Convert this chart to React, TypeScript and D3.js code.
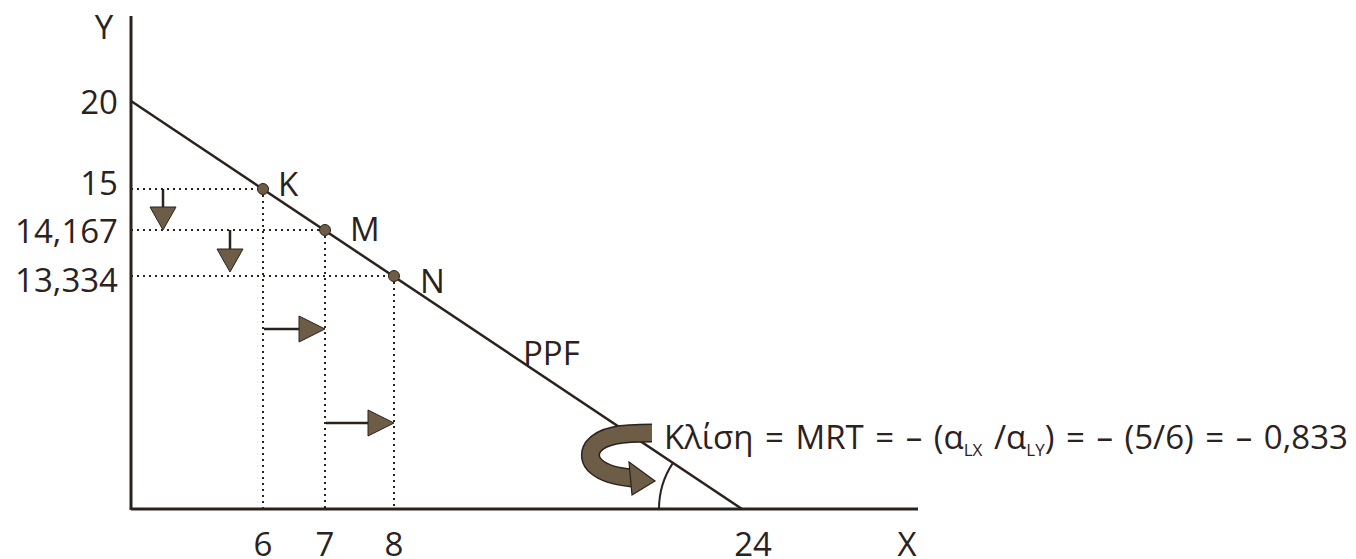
import React from 'react';
import * as d3 from 'd3';

// schematic PPF diagram
const xTicks = [6, 7, 8, 24];
const yTicks = [20, 15, 14.167, 13.334];
const pointNames = ['K', 'M', 'N'];
const pointX = [6, 7, 8];
const pointY = [15, 14.167, 13.334];
const ppfX = [0, 24];
const ppfY = [20, 0];

const W = 1356;
const H = 559;
const ink = '#2b221d';
const brown = '#6d5c46';
const font = '"Open Sans", "DejaVu Sans", sans-serif';
const fs = 33;

// the original is not to scale, so use a piecewise scale through the marked values
const x = d3.scaleLinear().domain([0, 6, 7, 8, 24]).range([131, 263, 325, 394, 742]);
const y = d3.scaleLinear().domain([0, 13.334, 14.167, 15, 20]).range([509, 276, 230, 189, 101]);

const fmt = (v: number) => String(v).replace('.', ',');

const App = () => {
  const line = d3.line<number>().x((d) => x(ppfX[d])).y((d) => y(ppfY[d]));
  const x0 = x(0);
  const y0 = y(0);
  const xEnd = x(24);

  // slope angle for the little arc at the X intercept
  const ang = Math.atan2(y0 - y(20), xEnd - x0);
  const r = 83;
  const arcStart = [xEnd - r, y0];
  const arcEnd = [xEnd - r * Math.cos(ang), y0 - r * Math.sin(ang)];

  const labelOffset = [
    { dx: 15, dy: -6 },
    { dx: 25, dy: -2 },
    { dx: 26, dy: 4 },
  ];

  const downArrow = (cx: number, from: number, to: number) => {
    const headTop = to - 23;
    return (
      <g key={`d${cx}`}>
        <line x1={cx} x2={cx} y1={y(from)} y2={headTop} stroke={ink} strokeWidth={2.5} />
        <path d={`M${cx - 13},${headTop}L${cx + 13},${headTop}L${cx},${to}Z`} fill={brown} stroke={ink} strokeWidth={1} />
      </g>
    );
  };
  const rightArrow = (cy: number, from: number, to: number) => {
    const headLeft = x(to) - 26;
    return (
      <g key={`r${cy}`}>
        <line x1={x(from) + 1} x2={headLeft} y1={cy} y2={cy} stroke={ink} strokeWidth={2.5} />
        <path d={`M${headLeft},${cy - 13}L${headLeft},${cy + 13}L${x(to)},${cy}Z`} fill={brown} stroke={ink} strokeWidth={1} />
      </g>
    );
  };

  const curl = 'M652,433 C622,433 602,435 593,447 C584,461 598,475 632,478';

  return (
    <svg width={W} height={H} style={{ position: 'absolute', left: 0, top: 0, background: '#fff' }} fontFamily={font}>
      {/* axes */}
      <line x1={x0} x2={x0} y1={16} y2={y0 + 1} stroke={ink} strokeWidth={3} />
      <line x1={x0} x2={918} y1={y0} y2={y0} stroke={ink} strokeWidth={3} />
      <text x={104} y={26} fontSize={fs} fill={ink} textAnchor="middle" dominantBaseline="central">Y</text>
      <text x={907} y={556} fontSize={fs} fill={ink} textAnchor="middle">X</text>

      {/* dotted guides */}
      {pointX.map((px, i) => (
        <g key={pointNames[i]} stroke={ink} strokeWidth={2} strokeDasharray="2 4" fill="none">
          <line x1={x0} x2={x(px)} y1={y(pointY[i])} y2={y(pointY[i])} />
          <line x1={x(px)} x2={x(px)} y1={y(pointY[i])} y2={y0} />
        </g>
      ))}

      {/* PPF */}
      <path d={line([0, 1]) || ''} stroke={ink} strokeWidth={2.5} fill="none" />
      <text x={523} y={352} fontSize={fs} fill={ink} dominantBaseline="central">PPF</text>

      {pointX.map((px, i) => (
        <g key={`p${i}`}>
          <circle cx={x(px)} cy={y(pointY[i])} r={5.5} fill={brown} stroke={ink} strokeWidth={1} />
          <text
            x={x(px) + labelOffset[i].dx}
            y={y(pointY[i]) + labelOffset[i].dy}
            fontSize={fs}
            fill={ink}
            dominantBaseline="central"
          >
            {pointNames[i]}
          </text>
        </g>
      ))}

      {/* tick labels */}
      {yTicks.map((v) => (
        <text key={v} x={118} y={y(v) + (v === 15 ? -7 : v === 13.334 ? 3 : 0)} fontSize={fs} fill={ink} textAnchor="end" dominantBaseline="central">
          {fmt(v)}
        </text>
      ))}
      {xTicks.map((v) => (
        <text key={v} x={x(v) + (v === 24 ? 11 : 0)} y={556} fontSize={fs} fill={ink} textAnchor="middle">
          {v}
        </text>
      ))}

      {/* movement arrows */}
      {downArrow(163, 15, y(14.167))}
      {downArrow(230, 14.167, y(13.334) - 4)}
      {rightArrow(329, 6, 7)}
      {rightArrow(423, 7, 8)}

      {/* angle arc */}
      <path d={`M${arcStart[0]},${arcStart[1]}A${r},${r} 0 0 1 ${arcEnd[0]},${arcEnd[1]}`} fill="none" stroke={ink} strokeWidth={2} />

      {/* curved arrow */}
      <path d={curl} fill="none" stroke={ink} strokeWidth={19} />
      <path d={curl} fill="none" stroke={brown} strokeWidth={16} />
      <path d="M629,462 L655,481 L632,495 Z" fill={brown} stroke={ink} strokeWidth={1.2} />

      {/* slope note */}
      <text x={664} y={436} fontSize={fs} fill={ink} dominantBaseline="central" wordSpacing={3}>
        <tspan>Κλίση = MRT = – (α</tspan>
        <tspan fontSize={17} dy={13}>LX</tspan>
        <tspan dy={-13}> /α</tspan>
        <tspan fontSize={17} dy={13}>LY</tspan>
        <tspan dy={-13}>) = – (5/6) = – 0,833</tspan>
      </text>
    </svg>
  );
};

export default App;
